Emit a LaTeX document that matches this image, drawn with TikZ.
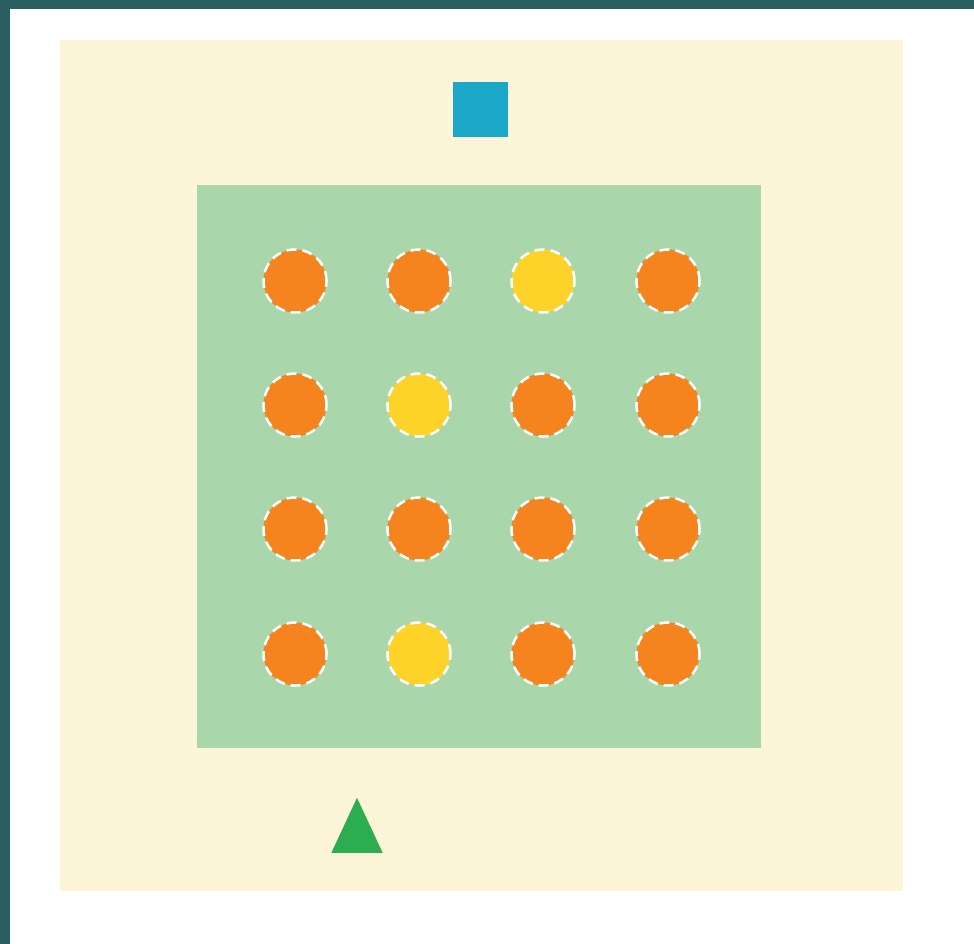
\documentclass[tikz,border=0pt]{standalone}
\usetikzlibrary{shapes.geometric}
\definecolor{teal}{HTML}{2A5E60}
\definecolor{cream}{HTML}{FDF5D8}
\definecolor{grn}{HTML}{A9D6AB}
\definecolor{org}{HTML}{F5841F}
\definecolor{yel}{HTML}{FDD32A}
\definecolor{blu}{HTML}{1BA8C8}
\definecolor{tri}{HTML}{2BAD50}
\tikzset{
  dot/.style={circle, minimum size=63pt, inner sep=0pt, draw=white, dashed, dash pattern=on 10pt off 6pt, line width=2.5pt},
  odot/.style={dot, fill=org},
  ydot/.style={dot, fill=yel}
}
\begin{document}
\begin{tikzpicture}[x=1pt,y=-1pt]
\useasboundingbox (0,0) rectangle (974,944);
\fill[white] (0,0) rectangle (974,944);
\fill[teal] (0,0) rectangle (974,9);
\fill[teal] (0,0) rectangle (10,944);
\node[draw=none, fill=cream, minimum width=843pt, minimum height=851pt, inner sep=0pt, anchor=north west] (outer) at (60,40) {};
\node[draw=none, fill=grn, minimum width=564pt, minimum height=563pt, inner sep=0pt, anchor=north west] (inner) at (197,185) {};
\node[fill=blu, minimum size=55pt, inner sep=0pt, anchor=north west] (sq) at (453,82) {};
\node[fill=tri, isosceles triangle, isosceles triangle apex angle=50, shape border rotate=90, minimum height=55pt, inner sep=0pt, anchor=south] (tr) at (357,853) {};
\node[odot] (c11) at (295,281) {};
\node[odot] (c12) at (419,281) {};
\node[ydot] (c13) at (543,281) {};
\node[odot] (c14) at (668,281) {};
\node[odot] (c21) at (295,405) {};
\node[ydot] (c22) at (419,405) {};
\node[odot] (c23) at (543,405) {};
\node[odot] (c24) at (668,405) {};
\node[odot] (c31) at (295,529) {};
\node[odot] (c32) at (419,529) {};
\node[odot] (c33) at (543,529) {};
\node[odot] (c34) at (668,529) {};
\node[odot] (c41) at (295,654) {};
\node[ydot] (c42) at (419,654) {};
\node[odot] (c43) at (543,654) {};
\node[odot] (c44) at (668,654) {};
\end{tikzpicture}
\end{document}
